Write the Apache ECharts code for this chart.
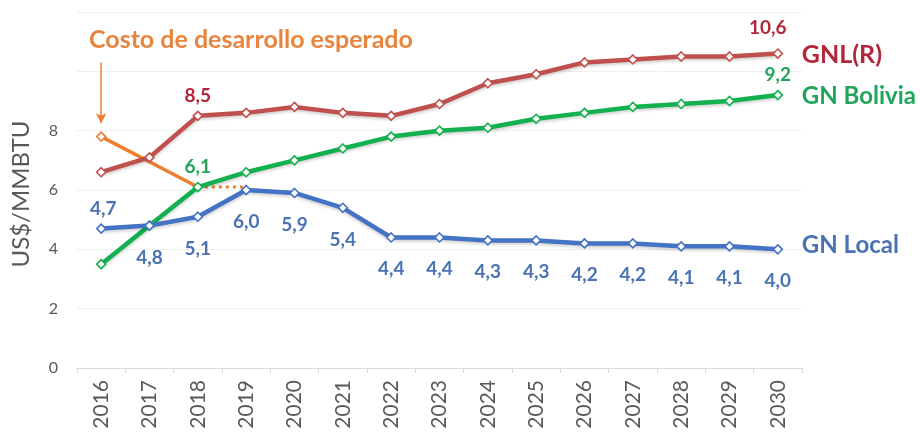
<!DOCTYPE html>
<html><head><meta charset="utf-8">
<script src="https://cdn.jsdelivr.net/npm/echarts@6/dist/echarts.min.js"></script>
<style>html,body{margin:0;padding:0;background:#fff}#c{width:920px;height:436px}</style>
</head><body><div id="c"></div>
<script>
const years = ['2016','2017','2018','2019','2020','2021','2022','2023','2024','2025','2026','2027','2028','2029','2030'];
const gnlR = [6.6,7.1,8.5,8.6,8.8,8.6,8.5,8.9,9.6,9.9,10.3,10.4,10.5,10.5,10.6];
const gnBolivia = [3.5,4.8,6.1,6.6,7.0,7.4,7.8,8.0,8.1,8.4,8.6,8.8,8.9,9.0,9.2];
const gnLocal = [4.7,4.8,5.1,6.0,5.9,5.4,4.4,4.4,4.3,4.3,4.2,4.2,4.1,4.1,4.0];
const costo = [7.8,null,6.1];
const costoDotted = [null,null,6.1,6.1];
const yTicksShown = [0,2,4,6,8];

const FONT = 'Lato';
const cRed = '#C0504D', cGreen = '#12B04E', cBlue = '#4472C4', cOrange = '#ED7D31';
const tRed = '#B3263A', tGreen = '#22A55A', tBlue = '#4A72B5', tOrange = '#E8843E';
const fmt = v => v.toFixed(1).replace('.', ',');

function lineSeries(name, data, lineColor, textColor, labelFn, endSize, endOffset) {
  return {
    name, type: 'line', data, z: 3,
    symbol: 'diamond', symbolSize: 9,
    lineStyle: { color: lineColor, width: 4.5, shadowColor: 'rgba(0,0,0,0.18)', shadowBlur: 3, shadowOffsetY: 2 },
    itemStyle: { color: '#fff', borderColor: lineColor, borderWidth: 1.6 },
    label: {
      show: true, fontFamily: FONT, fontWeight: 'bold', fontSize: 19, color: textColor,
      formatter: p => labelFn(p.dataIndex) ? fmt(p.value) : '',
      position: 'top', distance: 5
    },
    endLabel: { show: true, formatter: name, color: textColor, fontFamily: FONT, fontWeight: 'bold', fontSize: endSize, distance: 24, offset: endOffset || [0,0] },
    emphasis: { disabled: true }, animation: false
  };
}

const sGnl = lineSeries('GNL(R)', gnlR, cRed, tRed, i => i === 2 || i === 14, 25, [0, 1]);
sGnl.data = gnlR.map((v, i) => i === 14 ? { value: v, label: { offset: [-10, -6] } } : v);
const sBol = lineSeries('GN Bolivia', gnBolivia, cGreen, tGreen, i => i === 2 || i === 14, 24, [0, 1]);
const sLoc = lineSeries('GN Local', gnLocal, cBlue, tBlue, i => true, 24, [0, -4]);
sLoc.label.position = 'bottom';
sLoc.label.distance = 17;
sLoc.data = gnLocal.map((v, i) => i === 0 ? { value: v, label: { position: 'top', distance: 5, offset: [2, 0] } } : v);

const chart = echarts.init(document.getElementById('c'), null, { renderer: 'canvas' });
chart.setOption({
  animation: false,
  grid: { left: 77, right: 118, top: 12, bottom: 68 },
  graphic: [{
    type: 'text', left: 89, top: 27,
    style: { text: 'Costo de desarrollo esperado', fill: tOrange, font: 'bold 25px ' + FONT }
  }],
  xAxis: {
    type: 'category', data: years, boundaryGap: true,
    axisLine: { lineStyle: { color: '#d9d9d9' } },
    axisTick: { show: true, length: 5, lineStyle: { color: '#d9d9d9' } },
    axisLabel: { rotate: 90, color: '#595959', fontFamily: FONT, fontSize: 21, margin: 12 }
  },
  yAxis: {
    type: 'value', min: 0, max: 12, interval: 2,
    name: 'US$/MMBTU', nameLocation: 'middle', nameGap: 44, nameRotate: 90,
    nameTextStyle: { color: '#595959', fontFamily: FONT, fontSize: 24, padding: [0, 8, 0, 0] },
    axisLine: { show: false }, axisTick: { show: false },
    axisLabel: { color: '#595959', fontFamily: FONT, fontSize: 16, margin: 19,
      formatter: v => yTicksShown.includes(v) ? String(v) : '' },
    splitLine: { lineStyle: { color: '#efefef' } }
  },
  series: [
    {
      name: 'costoDotted', type: 'line', data: costoDotted, z: 1, symbol: 'none',
      lineStyle: { color: cOrange, width: 3, type: [3, 4] }, animation: false
    },
    {
      name: 'Costo', type: 'line', data: costo, connectNulls: true, z: 2,
      symbol: 'diamond', symbolSize: (v, p) => p.dataIndex === 0 ? 9 : 0,
      lineStyle: { color: cOrange, width: 3.5 },
      itemStyle: { color: '#fff', borderColor: cOrange, borderWidth: 1.6 },
      markLine: {
        silent: true, animation: false, symbol: ['none', 'arrow'], symbolSize: [8, 10],
        label: { show: false },
        lineStyle: { color: cOrange, width: 1.5, type: 'solid' },
        data: [[{ coord: ['2016', 10.3] }, { coord: ['2016', 8.25] }]]
      },
      animation: false
    },
    sGnl, sBol, sLoc
  ]
});
</script></body></html>
